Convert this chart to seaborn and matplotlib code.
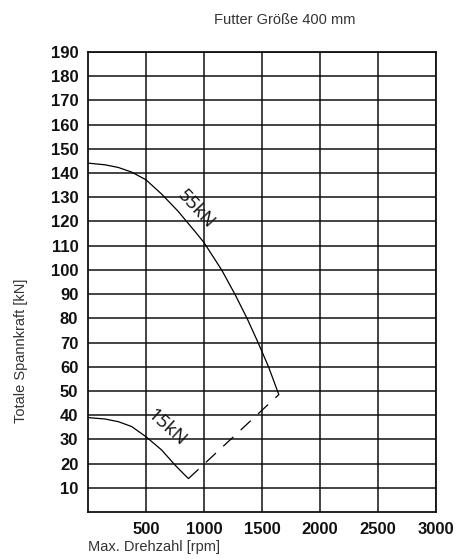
import numpy as np
import pandas as pd
import matplotlib
matplotlib.use("Agg")
import matplotlib.pyplot as plt
import seaborn as sns

# values
rpm_55 = [0, 148, 262, 376, 500, 635, 777, 920, 1000, 1152, 1266, 1371, 1466, 1556, 1645]
kn_55 = [144.1, 143.4, 142.3, 140.4, 137.2, 131.3, 124.2, 116, 111.3, 100, 90, 80, 70, 60, 48.5]
rpm_15 = [0, 148, 262, 376, 500, 635, 750, 836, 866]
kn_15 = [39, 38.4, 37.3, 35.3, 31.1, 25.6, 19.4, 15.2, 13.8]
rpm_link = [866, 1645]
kn_link = [13.8, 48.5]
x_ticks = [500, 1000, 1500, 2000, 2500, 3000]
y_ticks = list(range(10, 200, 10))

sns.set_style("white")
plt.rcParams['font.family'] = ['Liberation Sans', 'DejaVu Sans']

fig = plt.figure(figsize=(4.57, 5.59), dpi=100)
ax = fig.add_axes([88/457, 1-512/559, (436-88)/457, (512-52)/559])

df55 = pd.DataFrame({"rpm": rpm_55, "kn": kn_55})
df15 = pd.DataFrame({"rpm": rpm_15, "kn": kn_15})
dfl = pd.DataFrame({"rpm": rpm_link, "kn": kn_link})

sns.lineplot(data=df55, x="rpm", y="kn", sort=False, color="black", lw=0.9, ax=ax)
sns.lineplot(data=df15, x="rpm", y="kn", sort=False, color="black", lw=0.9, ax=ax)
sns.lineplot(data=dfl, x="rpm", y="kn", sort=False, color="black", lw=0.9, ax=ax)
ax.lines[-1].set_dashes((11, 8))

ax.set_xlim(0, 3000)
ax.set_ylim(0, 190)
ax.set_xticks(x_ticks)
ax.set_yticks(y_ticks)
ax.grid(True, color="#111111", lw=1.1)
for s in ax.spines.values():
    s.set_color("#111111")
    s.set_linewidth(1.3)
ax.tick_params(length=0, labelsize=12, pad=7, colors="#111111")
for t in ax.get_xticklabels() + ax.get_yticklabels():
    t.set_fontweight("bold")
ax.set_xlabel("")
ax.set_ylabel("")

ax.text(930, 125, "55kN", rotation=-47, ha="center", va="center", fontsize=13.5,
        family=["Open Sans", "DejaVu Sans"], color="#111111")
ax.text(680, 35, "15kN", rotation=-42, ha="center", va="center", fontsize=13.5,
        family=["Open Sans", "DejaVu Sans"], color="#111111")

fig.text(285/457, 1-20/559, "Futter Größe 400 mm", ha="center", va="center",
         fontsize=10.5, color="#333333")
fig.text(88/457, 1-547/559, "Max. Drehzahl [rpm]", ha="left", va="center",
         fontsize=10.5, color="#333333")
fig.text(21/457, 1-351/559, "Totale Spannkraft [kN]", ha="center", va="center",
         rotation=90, fontsize=10.5, color="#333333")

fig.savefig("out.png", dpi=100)
